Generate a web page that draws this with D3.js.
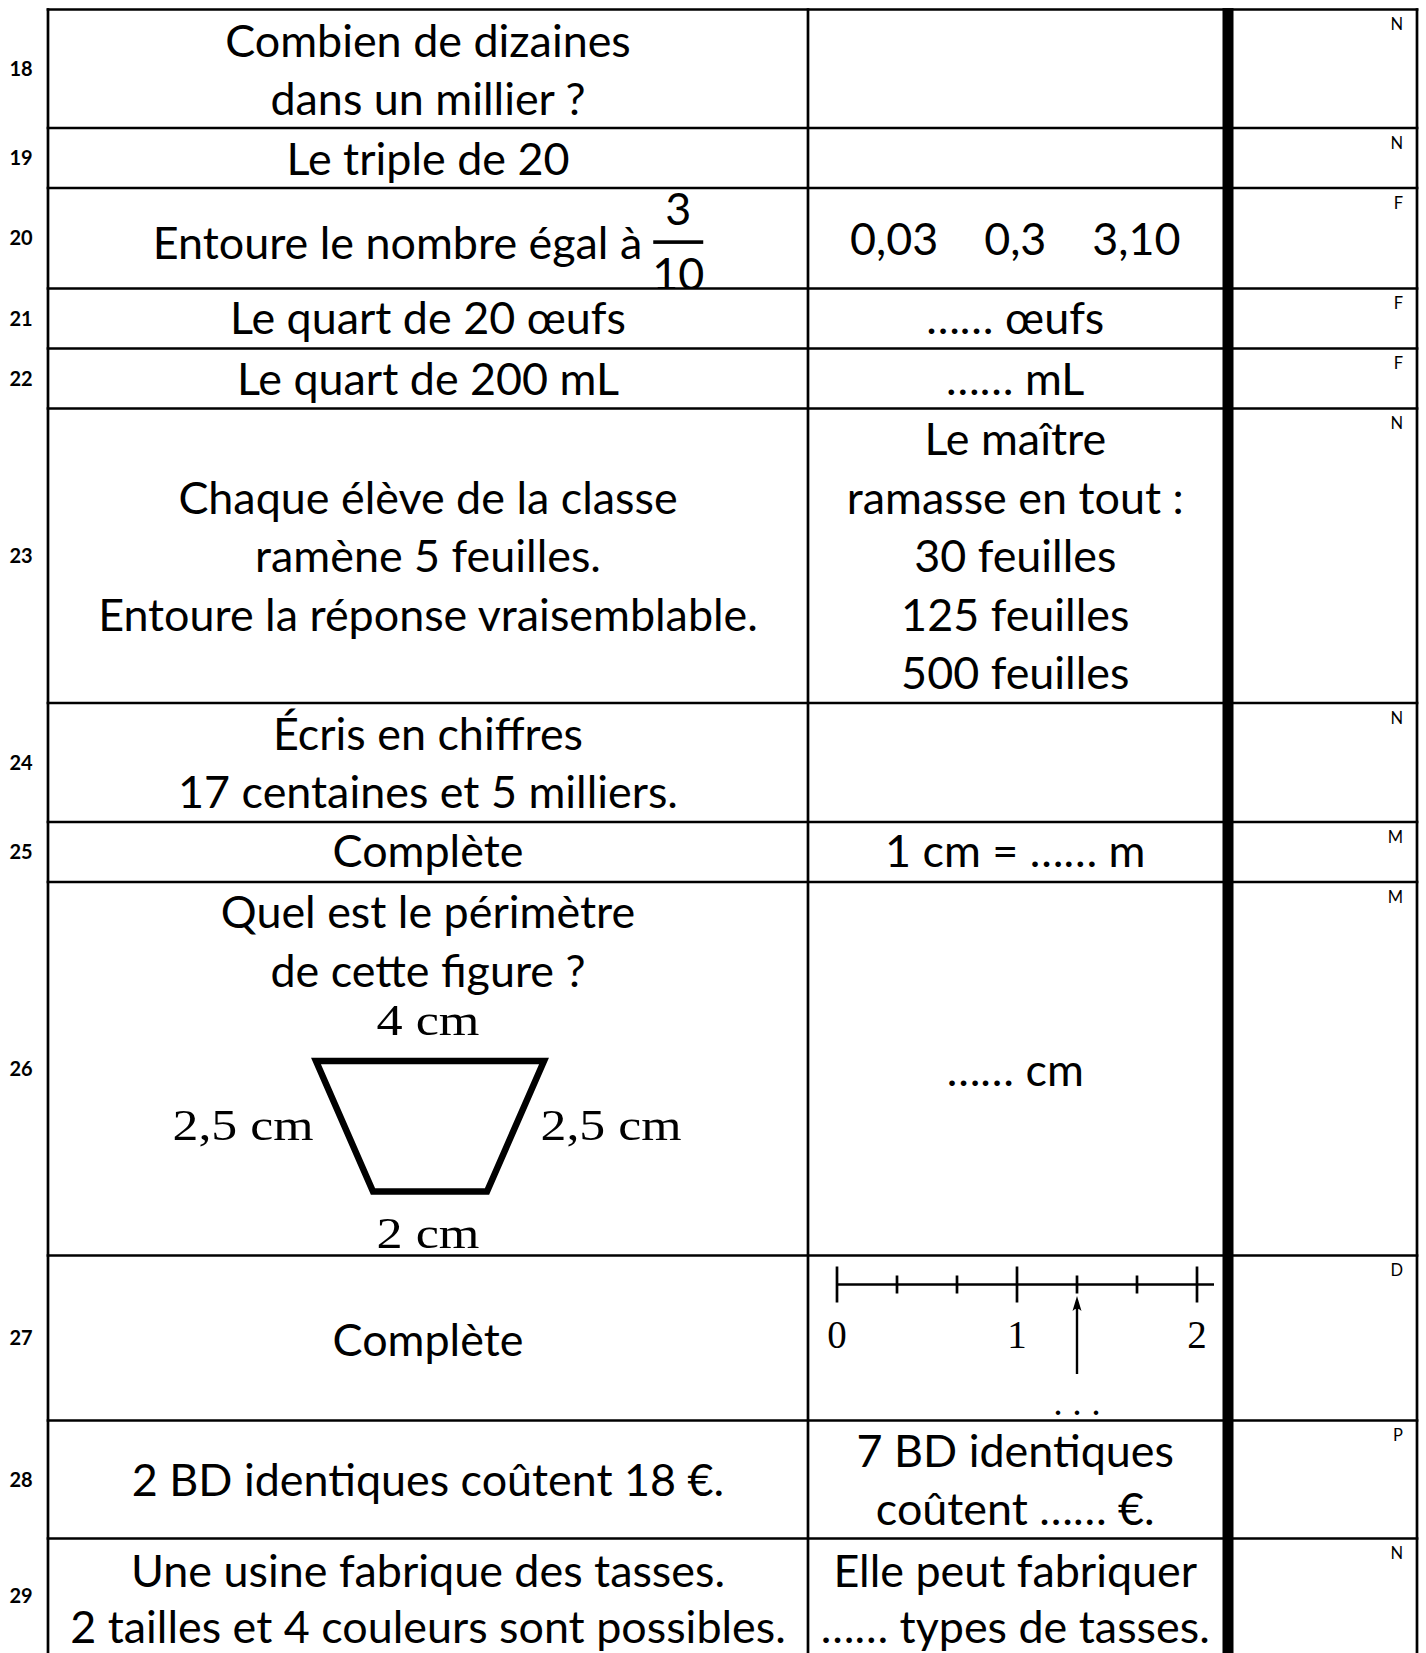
<!DOCTYPE html>
<html><head><meta charset="utf-8">
<script src="https://cdn.jsdelivr.net/npm/d3@7/dist/d3.min.js"></script>
<style>html,body{margin:0;padding:0;background:#fff}svg{display:block}</style>
</head><body><svg id="c"></svg>
<script>
// ---------- DATA ----------
const rowNumbers = [18,19,20,21,22,23,24,25,26,27,28,29];
const domainLetters = ["N","N","F","F","F","N","N","M","M","D","P","N"];
const questionLines = [
  ["Combien de dizaines","dans un millier ?"],
  ["Le triple de 20"],
  ["Entoure le nombre égal à"],
  ["Le quart de 20 œufs"],
  ["Le quart de 200 mL"],
  ["Chaque élève de la classe","ramène 5 feuilles.","Entoure la réponse vraisemblable."],
  ["Écris en chiffres","17 centaines et 5 milliers."],
  ["Complète"],
  ["Quel est le périmètre","de cette figure ?"],
  ["Complète"],
  ["2 BD identiques coûtent 18 €."],
  ["Une usine fabrique des tasses.","2 tailles et 4 couleurs sont possibles."]
];
const answerLines = [
  [], [], ["0,03    0,3    3,10"], ["…… œufs"], ["…… mL"],
  ["Le maître","ramasse en tout :","30 feuilles","125 feuilles","500 feuilles"],
  [], ["1 cm = …… m"], ["…… cm"], [], ["7 BD identiques","coûtent …… €."],
  ["Elle peut fabriquer","…… types de tasses."]
];
const fractionNumerator = "3";
const fractionDenominator = "10";
const trapezoidTopCm = 4, trapezoidBottomCm = 2, trapezoidSideCm = 2.5;
const trapezoidLabels = ["4 cm","2,5 cm","2,5 cm","2 cm"]; // top, left, right, bottom
const numberLineDomain = [0, 2];
const numberLineTicks = [0, 1/3, 2/3, 1, 4/3, 5/3, 2];
const numberLineMajor = [0, 1, 2];
const numberLineLabels = ["0","1","2"];
const numberLineArrowValue = 4/3;
const numberLineAnswer = ". . .";

// ---------- LAYOUT ----------
const W = 1426, H = 1653;
const SANS = "Lato, 'Open Sans', sans-serif";
const SERIF = "'Liberation Serif', 'DejaVu Serif', serif";
const xLeft = 48, xCol2 = 808, xThick0 = 1222.5, xThick1 = 1233.5, xRight = 1417;
const rowEdges = [9.5,128,188,288.5,348.5,408.5,703,822,882,1255.5,1420.5,1538.5,1653];
const qBaselines = [[57,115],[175],[259],[334],[395],[513.5,572,630.5],[750,808],[867],[928,986.5],[1356],[1496],[1587,1643]];
const aBaselines = [[],[],[255],[334],[395],[455,513.5,572,630.5,688.5],[],[867],[1086],[],[1467,1525],[1587,1643]];
const col1C = (xLeft + xCol2) / 2, col2C = (xCol2 + xThick0) / 2;
const lw = 2.7;

const svg = d3.select("#c").attr("width", W).attr("height", H);
svg.append("rect").attr("width", W).attr("height", H).attr("fill", "#fff");

// calibrate main font size on one reference line width
const probe = svg.append("text").attr("font-family", SANS).attr("font-size", 100)
  .text("Entoure la réponse vraisemblable.");
const fs = 100 * 660 / probe.node().getComputedTextLength();
probe.remove();

const rows = rowNumbers.map((n, i) => ({
  n, letter: domainLetters[i], q: questionLines[i], a: answerLines[i],
  qb: qBaselines[i], ab: aBaselines[i], y0: rowEdges[i], y1: rowEdges[i+1]
}));

const g = svg.append("g");

// row numbers
g.selectAll("text.num").data(rows).join("text").attr("class","num")
  .attr("x", 21).attr("y", d => (d.y0 + d.y1) / 2 + 7)
  .attr("text-anchor","middle").attr("font-family", SANS).attr("font-weight", 700)
  .attr("font-size", 20).text(d => d.n);

// letters
g.selectAll("text.let").data(rows).join("text").attr("class","let")
  .attr("x", 1403).attr("y", d => d.y0 + 20.5)
  .attr("text-anchor","end").attr("font-family", SANS).attr("font-size", 16.5).text(d => d.letter);

// question / answer lines
rows.forEach((r, i) => {
  r.q.forEach((t, j) => {
    if (i === 2) return;
    g.append("text").attr("x", col1C).attr("y", r.qb[j]).attr("text-anchor","middle")
      .attr("font-family", SANS).attr("font-size", fs).style("white-space","pre").text(t);
  });
  r.a.forEach((t, j) => {
    g.append("text").attr("x", col2C).attr("y", r.ab[j]).attr("text-anchor","middle")
      .attr("font-family", SANS).attr("font-size", fs).attr("xml:space","preserve")
      .style("white-space","pre").text(t);
  });
});

// row 20: text + fraction, centered as a group
(function(){
  const r = rows[2];
  svg.append("clipPath").attr("id","clip20").append("rect")
    .attr("x", xLeft).attr("y", r.y0).attr("width", xCol2 - xLeft).attr("height", r.y1 - r.y0);
  const gg = g.append("g").attr("clip-path","url(#clip20)");
  const t = gg.append("text").attr("y", r.qb[0]).attr("font-family", SANS).attr("font-size", fs).text(r.q[0]);
  const tw = t.node().getComputedTextLength();
  const gap = 11, fracW = 50;
  const start = col1C - (tw + gap + fracW) / 2;
  t.attr("x", start);
  const fx = start + tw + gap, fc = fx + fracW / 2;
  gg.append("rect").attr("x", fx).attr("y", 240.3).attr("width", fracW).attr("height", 3.6).attr("fill","#000");
  gg.append("text").attr("x", fc).attr("y", 225).attr("text-anchor","middle")
    .attr("font-family", SANS).attr("font-size", fs).text(fractionNumerator);
  gg.append("text").attr("x", fc).attr("y", 290).attr("text-anchor","middle")
    .attr("font-family", SANS).attr("font-size", fs).text(fractionDenominator);
})();

// row 26: trapezoid drawn to scale
(function(){
  const cm = d3.scaleLinear().domain([0, 1]).range([0, 57]);
  const cx = 430, topY = 1061;
  const off = (trapezoidTopCm - trapezoidBottomCm) / 2;
  const h = Math.sqrt(trapezoidSideCm * trapezoidSideCm - off * off);
  const pts = [
    [cx - cm(trapezoidTopCm / 2), topY],
    [cx + cm(trapezoidTopCm / 2), topY],
    [cx + cm(trapezoidBottomCm / 2), topY + cm(h)],
    [cx - cm(trapezoidBottomCm / 2), topY + cm(h)]
  ];
  g.append("path").attr("d", d3.line()(pts) + "Z").attr("fill","none")
    .attr("stroke","#000").attr("stroke-width", 6.5).attr("stroke-linejoin","miter");
  const lab = [
    {x: 428, y: 1035, w: 103}, {x: 243, y: 1140, w: 141},
    {x: 611, y: 1140, w: 141}, {x: 428, y: 1248, w: 103}
  ];
  trapezoidLabels.forEach((t, i) => {
    g.append("text").attr("x", lab[i].x - lab[i].w / 2).attr("y", lab[i].y)
      .attr("font-family", SERIF).attr("font-size", 45)
      .attr("textLength", lab[i].w).attr("lengthAdjust","spacingAndGlyphs").text(t);
  });
})();

// row 27: number line
(function(){
  const x = d3.scaleLinear().domain(numberLineDomain).range([837, 1197]);
  const y = 1284.5;
  const isMajor = d => numberLineMajor.some(m => Math.abs(m - d) < 1e-9);
  const nl = g.append("g").attr("stroke","#000").attr("stroke-width", 2.7);
  nl.append("line").attr("x1", x(0)).attr("x2", x(2) + 17).attr("y1", y).attr("y2", y);
  nl.selectAll("line.t").data(numberLineTicks).join("line").attr("class","t")
    .attr("x1", d => x(d)).attr("x2", d => x(d))
    .attr("y1", d => isMajor(d) ? y - 18 : y - 9)
    .attr("y2", d => isMajor(d) ? y + 18 : y + 9);
  g.selectAll("text.nlab").data(numberLineMajor).join("text").attr("class","nlab")
    .attr("x", d => x(d)).attr("y", 1348).attr("text-anchor","middle")
    .attr("font-family", SERIF).attr("font-size", 39).text((d, i) => numberLineLabels[i]);
  const ax = x(numberLineArrowValue);
  nl.append("line").attr("x1", ax).attr("x2", ax).attr("y1", 1374).attr("y2", 1302).attr("stroke-width", 2.4);
  g.append("path").attr("d", `M${ax},1296 L${ax-4.5},1311 Q${ax},1306 ${ax+4.5},1311 Z`).attr("fill","#000");
  g.append("text").attr("x", ax).attr("y", 1415).attr("text-anchor","middle")
    .attr("font-family", SERIF).attr("font-size", 38).attr("xml:space","preserve")
    .style("white-space","pre").text(numberLineAnswer);
})();

// grid lines
const grid = g.append("g").attr("stroke","#000").attr("stroke-width", lw);
grid.selectAll("line.h").data(rowEdges.slice(0, -1)).join("line").attr("class","h")
  .attr("x1", xLeft - lw/2).attr("x2", xRight + lw/2).attr("y1", d => d).attr("y2", d => d);
grid.selectAll("line.v").data([xLeft, xCol2, xRight]).join("line").attr("class","v")
  .attr("x1", d => d).attr("x2", d => d).attr("y1", rowEdges[0] - lw/2).attr("y2", H);
g.append("rect").attr("x", xThick0).attr("y", rowEdges[0] - lw/2).attr("width", xThick1 - xThick0)
  .attr("height", H - rowEdges[0] + lw/2).attr("fill","#000");
</script></body></html>
